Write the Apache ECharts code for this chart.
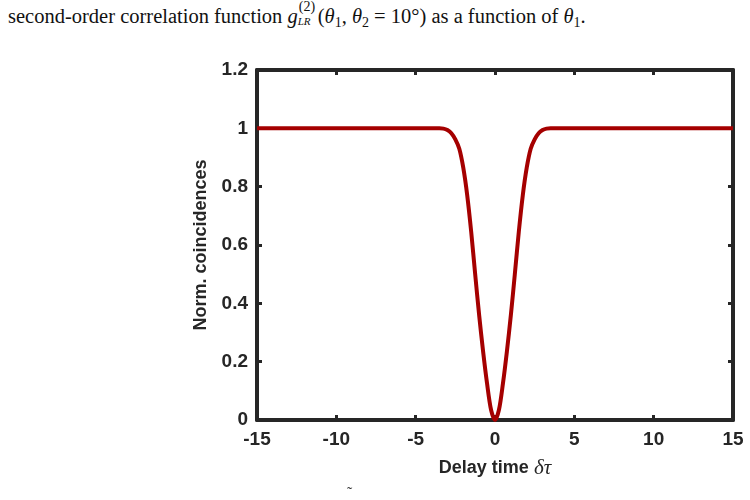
<!DOCTYPE html>
<html>
<head>
<meta charset="utf-8">
<script src="https://cdn.jsdelivr.net/npm/echarts@6/dist/echarts.min.js"></script>
<style>
  body { margin: 0; background: #fff; }
  #caption {
    position: absolute; left: 8px; top: 5px;
    font-family: "Liberation Serif", "DejaVu Serif", serif;
    font-size: 20.5px; color: #111; white-space: nowrap;
  }
  #caption i { font-style: italic; }
  #caption sub { font-size: 14px; vertical-align: -4px; line-height: 0; }
  .ss { position: relative; display: inline-block; width: 20px; height: 10px; }
  .ss .up { position: absolute; left: 1px; top: -14px; font-size: 14px; }
  .ss .dn { position: absolute; left: 0; top: 2px; font-size: 11px; font-style: italic; }
  #chart { width: 750px; height: 500px; }
</style>
</head>
<body>
<div id="caption">second-order correlation function <i>g</i><span class="ss"><span class="up">(2)</span><span class="dn">LR</span></span>(<i>θ</i><sub>1</sub>, <i>θ</i><sub>2</sub> = 10°) as a function of <i>θ</i><sub>1</sub>.</div>
<div id="chart"></div>
<script>
// delay time (x) and normalized coincidences (y)
const delayTime = [-15, -3.5, -3.25, -3, -2.75, -2.5, -2.25, -2, -1.75, -1.5, -1.25, -1, -0.75, -0.5, -0.25, 0,
  0.25, 0.5, 0.75, 1, 1.25, 1.5, 1.75, 2, 2.25, 2.5, 2.75, 3, 3.25, 3.5, 15]
const coincidences = [1, 1, 0.999, 0.994, 0.983, 0.962, 0.93, 0.865, 0.77, 0.645, 0.5, 0.36, 0.235, 0.125, 0.035, 0,
  0.035, 0.125, 0.235, 0.36, 0.5, 0.645, 0.77, 0.865, 0.93, 0.962, 0.983, 0.994, 0.999, 1, 1]
const xTicks = [-15, -10, -5, 0, 5, 10, 15]
const yTicks = [0, 0.2, 0.4, 0.6, 0.8, 1, 1.2]

const axisColor = '#262626'
const labelFont = {
  color: '#262626',
  fontFamily: 'Liberation Sans, Arial, sans-serif',
  fontWeight: 'bold',
  fontSize: 19,
}

const chart = echarts.init(document.getElementById('chart'))

// shared look for the four sides of the box
const boxAxis = {
  axisLine: { show: true, onZero: false, lineStyle: { color: axisColor, width: 4 } },
  axisTick: { show: true, inside: true, length: 5, lineStyle: { color: axisColor, width: 3 } },
  splitLine: { show: false },
}

chart.setOption({
  animation: false,
  grid: { left: 257, right: 17, top: 70, bottom: 80 },
  xAxis: [
    {
      type: 'value',
      min: xTicks[0],
      max: xTicks[xTicks.length - 1],
      interval: 5,
      position: 'bottom',
      ...boxAxis,
      axisLabel: { ...labelFont, margin: 10, formatter: v => String(v) },
      name: '{a|Delay time }{b|δτ}',
      nameLocation: 'middle',
      nameGap: 38,
      nameTextStyle: {
        rich: {
          a: { ...labelFont, fontSize: 18 },
          b: { fontFamily: 'Liberation Serif, serif', fontStyle: 'italic', fontSize: 21, color: '#262626' },
        },
      },
    },
    {
      type: 'value',
      min: xTicks[0],
      max: xTicks[xTicks.length - 1],
      interval: 5,
      position: 'top',
      ...boxAxis,
      axisLabel: { show: false },
    },
  ],
  yAxis: [
    {
      type: 'value',
      min: yTicks[0],
      max: yTicks[yTicks.length - 1],
      interval: 0.2,
      position: 'left',
      ...boxAxis,
      axisLabel: { ...labelFont, margin: 9, formatter: v => String(+v.toFixed(1)) },
      name: 'Norm. coincidences',
      nameLocation: 'middle',
      nameGap: 47,
      nameTextStyle: { ...labelFont, fontSize: 18 },
    },
    {
      type: 'value',
      min: yTicks[0],
      max: yTicks[yTicks.length - 1],
      interval: 0.2,
      position: 'right',
      ...boxAxis,
      axisLabel: { show: false },
    },
  ],
  series: [
    {
      type: 'line',
      data: delayTime.map((t, i) => [t, coincidences[i]]),
      smooth: 0.3,
      showSymbol: false,
      lineStyle: { color: '#a50000', width: 4 },
    },
  ],
  graphic: [
    {
      type: 'text',
      left: 347,
      top: 486,
      style: { text: '˜', fontSize: 16, fill: '#333', fontFamily: 'Liberation Serif, serif' },
    },
  ],
})
</script>
</body>
</html>
